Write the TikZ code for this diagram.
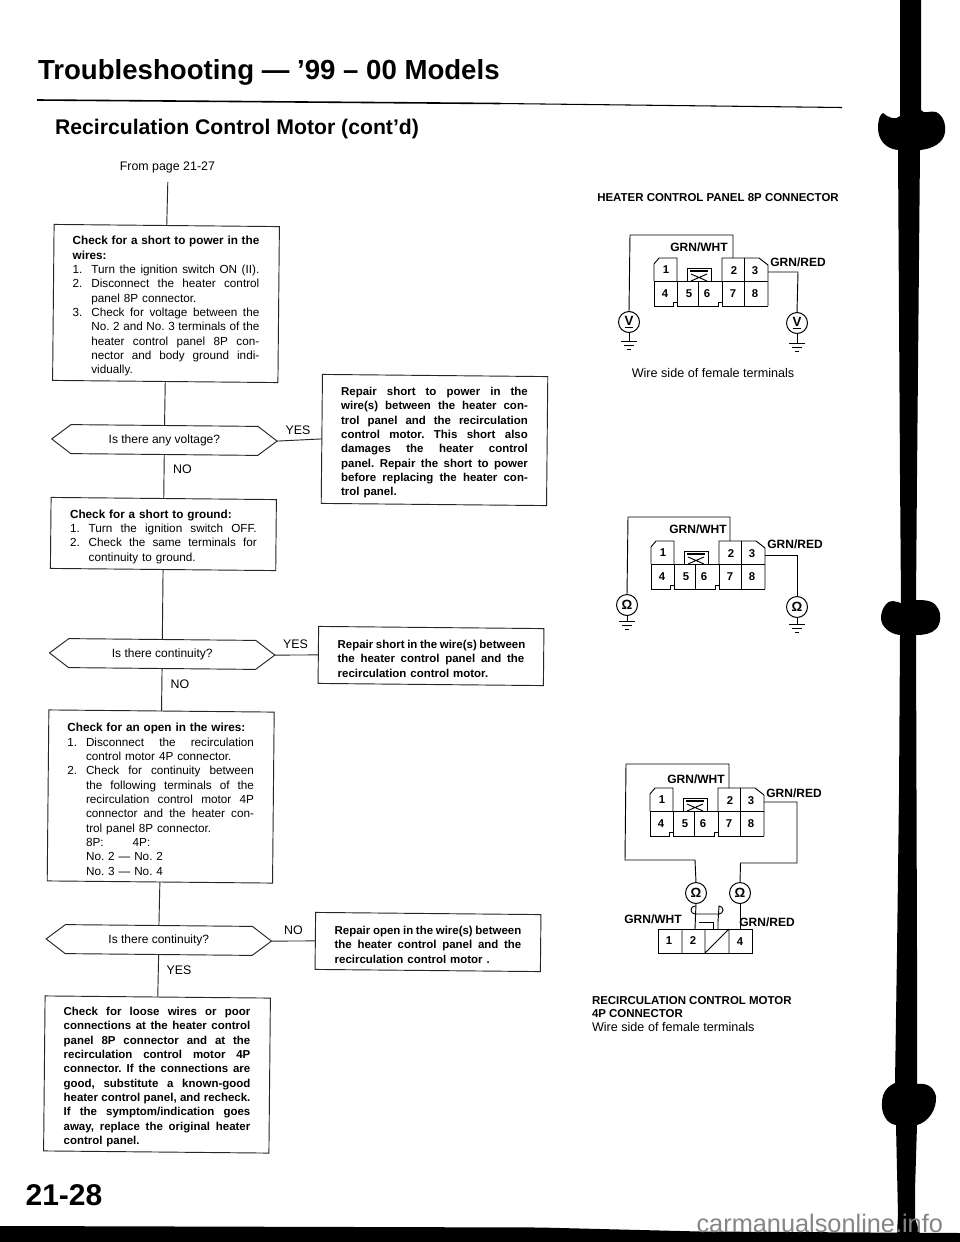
\documentclass[tikz,border=0pt]{standalone}
\usepackage{fontspec}
\setmainfont{Liberation Sans}
\usetikzlibrary{calc}
\newcommand{\sj}{\spaceskip=.278em plus 1fil minus .05em\relax}
\newcommand{\jline}[1]{\makebox[\linewidth][s]{\sj #1}}
\newcommand{\nline}[2]{\makebox[14pt][l]{#1}\makebox[126pt][s]{\sj #2}}
\newcommand{\iline}[1]{\hspace*{14pt}\makebox[126pt][s]{\sj #1}}
\newcommand{\pline}[1]{\hspace*{14pt}#1}
\tikzset{
  every node/.style={inner sep=0pt,outer sep=0pt},
  flowshape/.style={draw=black!85,line width=0.7pt,rotate=-0.55,minimum width=169pt},
  flowtext/.style={text width=140pt,align=left,yshift=-2pt,font=\fontsize{8.8}{10.75}\selectfont\frenchspacing},
  hexbox/.style={rotate=-0.55,minimum width=169pt,minimum height=21.75pt},
  hextext/.style={font=\fontsize{9}{11}\selectfont},
  edge/.style={draw=black!85,line width=0.7pt},
  lab/.style={font=\fontsize{9.3}{11}\selectfont},
  wirelab/.style={font=\fontsize{9}{11}\selectfont\bfseries},
  pin/.style={font=\fontsize{8.5}{10}\selectfont\bfseries},
  head/.style={font=\fontsize{8.6}{10.2}\selectfont\bfseries},
  meter/.style={circle,draw=black,line width=0.75pt,minimum size=15.75pt,font=\fontsize{10}{10}\selectfont\bfseries},
  wire/.style={draw=black,line width=0.7pt},
  shell/.style={draw=black,line width=0.7pt}
}
\newcommand{\flow}[5]{%
  \node[flowshape,minimum height=#4] (#1) at (#2,#3) {};
  \node[flowtext] (#1-text) at (#1.center) {#5};}
\newcommand{\hexnode}[4]{%
  \node[hexbox] (#1) at (#2,#3) {};
  \node[hextext] (#1-text) at (#1.center) {#4};
  \draw[edge] (#1.west) -- ($(#1.north west)!0.085!(#1.north east)$) -- ($(#1.north east)!0.085!(#1.north west)$)
    -- (#1.east) -- ($(#1.south east)!0.085!(#1.south west)$) -- ($(#1.south west)!0.085!(#1.south east)$) -- cycle;}
\newcommand{\eightp}[3]{%
  \begin{scope}[shift={(#2,#3)}]
    \draw[shell] (0,23)--(0,6)--(5,0)--(23,0)--(23,23);
    \draw[shell] (68,23)--(68,0)--(105,0)--(114,7)--(114,48);
    \draw[shell] (0,23)--(0,48)--(19,48)--(19,44)--(23,44)--(23,48)--(64,48)--(64,44)--(68,44)--(68,48)--(114,48);
    \draw[shell] (0,23)--(114,23);
    \draw[shell] (23,23)--(23,44) (44,23)--(44,48) (68,23)--(68,44) (90,0)--(90,48);
    \draw[shell] (33,10) rectangle (57,23);
    \draw[draw=black,line width=1.1pt] (36,13)--(54,13);
    \draw[shell] (37,23)--(53,16) (37,16)--(53,23);
    \node[pin] (#1-1) at (12,12) {1};
    \node[pin] (#1-2) at (80,13) {2};
    \node[pin] (#1-3) at (101,13) {3};
    \node[pin] (#1-4) at (11,36) {4};
    \node[pin] (#1-5) at (35,36) {5};
    \node[pin] (#1-6) at (53,36) {6};
    \node[pin] (#1-7) at (79,36) {7};
    \node[pin] (#1-8) at (101,36) {8};
    \coordinate (#1-t) at (79,0);
    \coordinate (#1-r) at (114,14);
  \end{scope}}
\newcommand{\earth}[4]{%
  \coordinate (#2) at (#3,#4);
  \draw[wire] (#1.south) -- (#2);
  \draw[wire] ($(#2)+(-8,0)$) -- ($(#2)+(8,0)$);
  \draw[wire] ($(#2)+(-5,4)$) -- ($(#2)+(5,4)$);
  \draw[wire] ($(#2)+(-2,8)$) -- ($(#2)+(2,8)$);}
\begin{document}
\begin{tikzpicture}[x=0.75pt,y=-0.75pt]
\useasboundingbox (0,0) rectangle (960,1242);
\fill[white] (0,0) rectangle (960,1242);

% page furniture
\node[anchor=base west,font=\fontsize{20.7}{23}\selectfont\bfseries] (title) at (38,79) {Troubleshooting — ’99 – 00 Models};
\coordinate (ruleA) at (37,100);
\coordinate (ruleB) at (500,103.5);
\coordinate (ruleC) at (842,107.5);
\draw[black,line width=1.2pt] (ruleA) -- (ruleB);
\draw[black,line width=0.8pt] (ruleB) -- (ruleC);
\node[anchor=base west,font=\fontsize{15.9}{18}\selectfont\bfseries] (subtitle) at (55,134) {Recirculation Control Motor (cont’d)};
\node[lab] (from) at (167.4,167) {From page 21-27};
\coordinate (fromEnd) at (167.8,182);

% flow boxes
\flow{b1}{166}{303.5}{117pt}{%
\jline{\bfseries Check for a short to power in the}\\
{\bfseries wires:}\\
\nline{1.}{Turn the ignition switch ON (II).}\\
\nline{2.}{Disconnect the heater control}\\
\pline{panel 8P connector.}\\
\nline{3.}{Check for voltage between the}\\
\iline{No. 2 and No. 3 terminals of the}\\
\iline{heater control panel 8P con-}\\
\iline{nector and body ground indi-}\\
\pline{vidually.}}
\hexnode{h1}{164.4}{440}{Is there any voltage?}
\flow{b2}{163.4}{534}{53.25pt}{%
{\bfseries Check for a short to ground:}\\
\nline{1.}{Turn the ignition switch OFF.}\\
\nline{2.}{Check the same terminals for}\\
\pline{continuity to ground.}}
\hexnode{h2}{162.2}{654}{Is there continuity?}
\flow{b3}{160.7}{796.5}{128.25pt}{%
{\bfseries Check for an open in the wires:}\\
\nline{1.}{Disconnect the recirculation}\\
\pline{control motor 4P connector.}\\
\nline{2.}{Check for continuity between}\\
\iline{the following terminals of the}\\
\iline{recirculation control motor 4P}\\
\iline{connector and the heater con-}\\
\pline{trol panel 8P connector.}\\
\pline{\makebox[35pt][l]{8P:}4P:}\\
\pline{No. 2 — No. 2}\\
\pline{No. 3 — No. 4}}
\hexnode{h3}{158.8}{940}{Is there continuity?}
\flow{b4}{157}{1074.5}{116.25pt}{\bfseries\fontsize{8.6}{10.75}\selectfont%
\jline{Check for loose wires or poor}\\
\jline{connections at the heater control}\\
\jline{panel 8P connector and at the}\\
\jline{recirculation control motor 4P}\\
\jline{connector. If the connections are}\\
\jline{good, substitute a known-good}\\
\jline{heater control panel, and recheck.}\\
\jline{If the symptom/indication goes}\\
\jline{away, replace the original heater}\\
control panel.}
\flow{r1}{434.5}{440}{96.75pt}{\bfseries\fontsize{8.6}{10.75}\selectfont%
\jline{Repair short to power in the}\\
\jline{wire(s) between the heater con-}\\
\jline{trol panel and the recirculation}\\
\jline{control motor. This short also}\\
\jline{damages the heater control}\\
\jline{panel. Repair the short to power}\\
\jline{before replacing the heater con-}\\
trol panel.}
\flow{r2}{431}{656}{42.75pt}{\bfseries\fontsize{8.6}{10.75}\selectfont%
\jline{Repair short in the wire(s) between}\\
\jline{the heater control panel and the}\\
recirculation control motor.}
\flow{r3}{428}{942}{42.75pt}{\bfseries\fontsize{8.6}{10.75}\selectfont%
\jline{Repair open in the wire(s) between}\\
\jline{the heater control panel and the}\\
recirculation control motor .}

% connectors
\draw[edge] (fromEnd) -- (b1.north);
\draw[edge] (b1.south) -- (h1.north);
\draw[edge] (h1.south) -- (b2.north);
\draw[edge] (b2.south) -- (h2.north);
\draw[edge] (h2.south) -- (b3.north);
\draw[edge] (b3.south) -- (h3.north);
\draw[edge] (h3.south) -- (b4.north);
\draw[edge] (h1.east) -- (r1.west);
\draw[edge] (h2.east) -- (r2.west);
\draw[edge] (h3.east) -- (r3.west);
\node[lab] (y1) at (298,430) {YES};
\node[lab] (n1) at (182.5,469.5) {NO};
\node[lab] (y2) at (295.5,644.7) {YES};
\node[lab] (n2) at (180,684) {NO};
\node[lab] (n3) at (293.4,930.7) {NO};
\node[lab] (y3) at (179,970.7) {YES};
\node[font=\fontsize{22.5}{24}\selectfont\bfseries] (pageno) at (64,1195) {21-28};

% first connector diagram
\node[head] (t1) at (718,198) {HEATER CONTROL PANEL 8P CONNECTOR};
\eightp{ca}{654}{258}
\node[wirelab] (ca-w) at (699,247) {GRN/WHT};
\node[wirelab] (ca-g) at (798,262) {GRN/RED};
\node[meter] (ca-ml) at (629,322) {\underline{V}};
\node[meter] (ca-mr) at (797,323) {\underline{V}};
\coordinate (ca-top) at (630,235);
\coordinate (ca-rt) at (798,272);
\draw[wire] (ca-t) |- (ca-top) -- (ca-ml.north);
\draw[wire] (ca-r) -- (ca-rt) -- (ca-mr.north);
\earth{ca-ml}{ca-gl}{629}{341}
\earth{ca-mr}{ca-gr}{797}{343}
\node[font=\fontsize{9.45}{11}\selectfont] (t1b) at (713,373) {Wire side of female terminals};

% second connector diagram
\eightp{cb}{651}{541}
\node[wirelab] (cb-w) at (698,529) {GRN/WHT};
\node[wirelab] (cb-g) at (795,544) {GRN/RED};
\node[meter] (cb-ml) at (627,605) {Ω};
\node[meter] (cb-mr) at (797,607) {Ω};
\coordinate (cb-top) at (628,517);
\coordinate (cb-rt) at (797,555);
\draw[wire] (cb-t) |- (cb-top) -- (cb-ml.north);
\draw[wire] (cb-r) -- (cb-rt) -- (cb-mr.north);
\earth{cb-ml}{cb-gl}{627}{621}
\earth{cb-mr}{cb-gr}{797}{624}

% third connector diagram
\eightp{cc}{650}{788}
\node[wirelab] (cc-w) at (696,779) {GRN/WHT};
\node[wirelab] (cc-g) at (794,793) {GRN/RED};
\node[meter] (cc-ml) at (696,893) {Ω};
\node[meter] (cc-mr) at (740,893) {Ω};
\coordinate (cc-top) at (626,764);
\coordinate (cc-lb) at (625,860);
\coordinate (cc-lc) at (695,860);
\coordinate (cc-rt) at (797,802);
\coordinate (cc-rb) at (797,863);
\coordinate (cc-rc) at (740.5,863);
\draw[wire] (cc-t) |- (cc-top) -- (cc-lb) -- (cc-lc) -- (cc-ml.north);
\draw[wire] (cc-r) -- (cc-rt) -- (cc-rb) -- (cc-rc) -- (cc-mr.north);
% 4P connector
\draw[shell] (658,929) rectangle (752,953);
\draw[shell] (682,929)--(682,953) (705,929)--(705,953) (729,929)--(729,953) (705,953)--(729,929);
\node[pin] (p4-1) at (669,941) {1};
\node[pin] (p4-2) at (693,941) {2};
\node[pin] (p4-4) at (740,942) {4};
\coordinate (p4-a) at (695,929);
\coordinate (p4-b) at (740,929);
\draw[wire] (cc-ml.south) -- (p4-a);
\draw[wire] (cc-mr.south) -- (p4-b);
\draw[shell] (695,914) -- (719,914) arc[start angle=90,end angle=-90,radius=4] -- (718,922) -- (718,929);
\draw[shell] (713,922) -- (699,922) (713,922) -- (713,929);
\draw[shell] (695,914) arc[start angle=90,end angle=270,radius=4];
\node[wirelab] (p4-w) at (653,919) {GRN/WHT};
\node[wirelab] (p4-g) at (767,922) {GRN/RED};
\node[head,anchor=west] (t3a) at (592,1001) {RECIRCULATION CONTROL MOTOR};
\node[head,anchor=west] (t3b) at (592,1014) {4P CONNECTOR};
\node[anchor=west,font=\fontsize{9.45}{11}\selectfont] (t3c) at (592,1027) {Wire side of female terminals};

% scanner edge: binding bar and bottom band
\fill[black] (900,-2) -- (921,-2) -- (921,110)
  .. controls (924,115) and (930,110) .. (936,112)
  .. controls (943,115) and (946,124) .. (945,132)
  .. controls (944,143) and (932,149) .. (920,150)
  -- (917,476) -- (916,600)
  .. controls (924,600) and (933,600) .. (937,607)
  .. controls (942,613) and (941,624) .. (936,629)
  .. controls (931,634) and (924,635) .. (916,635)
  -- (917,952) -- (917,1084)
  .. controls (925,1083) and (933,1085) .. (936,1096)
  .. controls (937,1110) and (928,1122) .. (917,1125)
  -- (915,1190) -- (915,1218) -- (920,1234) -- (897,1234) -- (898,1215) -- (896,1125)
  .. controls (886,1124) and (881,1112) .. (882,1103)
  .. controls (882,1092) and (888,1086) .. (895,1083)
  -- (897,952) -- (899,794) -- (900,635)
  .. controls (890,634) and (881,627) .. (881,618)
  .. controls (881,608) and (888,600) .. (893,601)
  .. controls (896,601) and (899,603) .. (901,603)
  -- (900,476) -- (898,150)
  .. controls (886,149) and (878,140) .. (878,128)
  .. controls (878,120) and (880,114) .. (883,113)
  .. controls (887,117) and (896,121) .. (900,116)
  -- cycle;
\fill[black] (0,1226) -- (540,1227.5) -- (700,1231.5) -- (960,1233) -- (960,1243) -- (0,1243) -- cycle;
\node[anchor=base east,text=black!48,font=\fontsize{19}{21}\selectfont] (watermark) at (943,1232) {carmanualsonline.info};
\end{tikzpicture}
\end{document}
